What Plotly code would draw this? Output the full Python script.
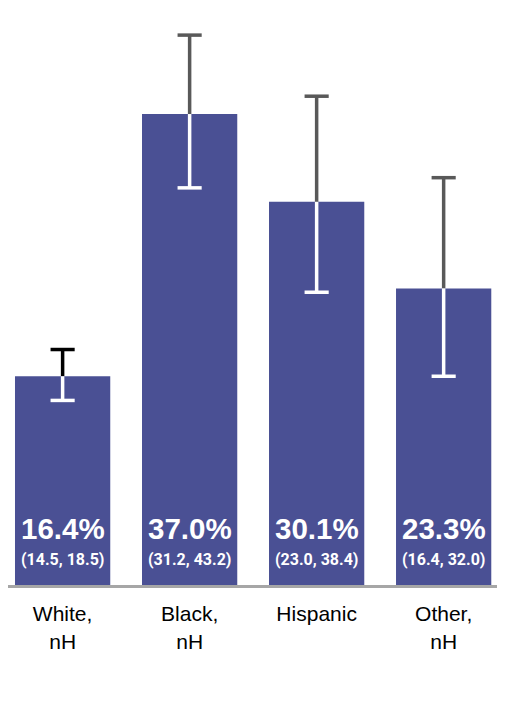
import plotly.graph_objects as go

groups = ["White,<br>nH", "Black,<br>nH", "Hispanic", "Other,<br>nH"]
pct = [16.4, 37.0, 30.1, 23.3]
ci_low = [14.5, 31.2, 23.0, 16.4]
ci_high = [18.5, 43.2, 38.4, 32.0]

bar_color = "#4A5094"
top_colors = ["#000000", "#595959", "#595959", "#595959"]
cap = 0.095

xs = list(range(len(groups)))

fig = go.Figure()
fig.add_trace(go.Bar(x=xs, y=pct, width=0.75, marker_color=bar_color,
                     marker_line_width=0, hoverinfo="skip"))

# whiskers: part above the bar in grey/black, part inside the bar in white
for i in xs:
    up_x = [i, i, None, i - cap, i + cap]
    up_y = [pct[i], ci_high[i], None, ci_high[i], ci_high[i]]
    fig.add_trace(go.Scatter(x=up_x, y=up_y, mode="lines",
                             line=dict(color=top_colors[i], width=3.5),
                             hoverinfo="skip"))
    lo_x = [i, i, None, i - cap, i + cap]
    lo_y = [pct[i], ci_low[i], None, ci_low[i], ci_low[i]]
    fig.add_trace(go.Scatter(x=lo_x, y=lo_y, mode="lines",
                             line=dict(color="white", width=3.5),
                             hoverinfo="skip"))

for i in xs:
    fig.add_annotation(x=i, y=0, text="<b>%.1f%%</b>" % pct[i], showarrow=False,
                       yanchor="bottom", yshift=38,
                       font=dict(family="Liberation Sans, Arial", size=29.5, color="white"))
    fig.add_annotation(x=i, y=0, text="<b>(%.1f, %.1f)</b>" % (ci_low[i], ci_high[i]),
                       showarrow=False, yanchor="bottom", yshift=14,
                       font=dict(family="Roboto", size=16, color="white"))

# page body adds an 8px offset, so the figure is a bit smaller than the window
fig.update_layout(
    width=498, height=712,
    margin=dict(l=0, r=9, t=0, b=135),
    plot_bgcolor="white", paper_bgcolor="white",
    showlegend=False,
    xaxis=dict(range=[-0.43, 3.42], tickvals=xs, ticktext=groups,
               showline=True, linecolor="#A6A6A6", linewidth=3,
               showgrid=False, zeroline=False, ticks="", ticklabelstandoff=8,
               tickfont=dict(family="Liberation Sans, Arial", size=21, color="black")),
    yaxis=dict(range=[0, 45.33], visible=False, showgrid=False, zeroline=False),
)

fig.write_html("out.html")
